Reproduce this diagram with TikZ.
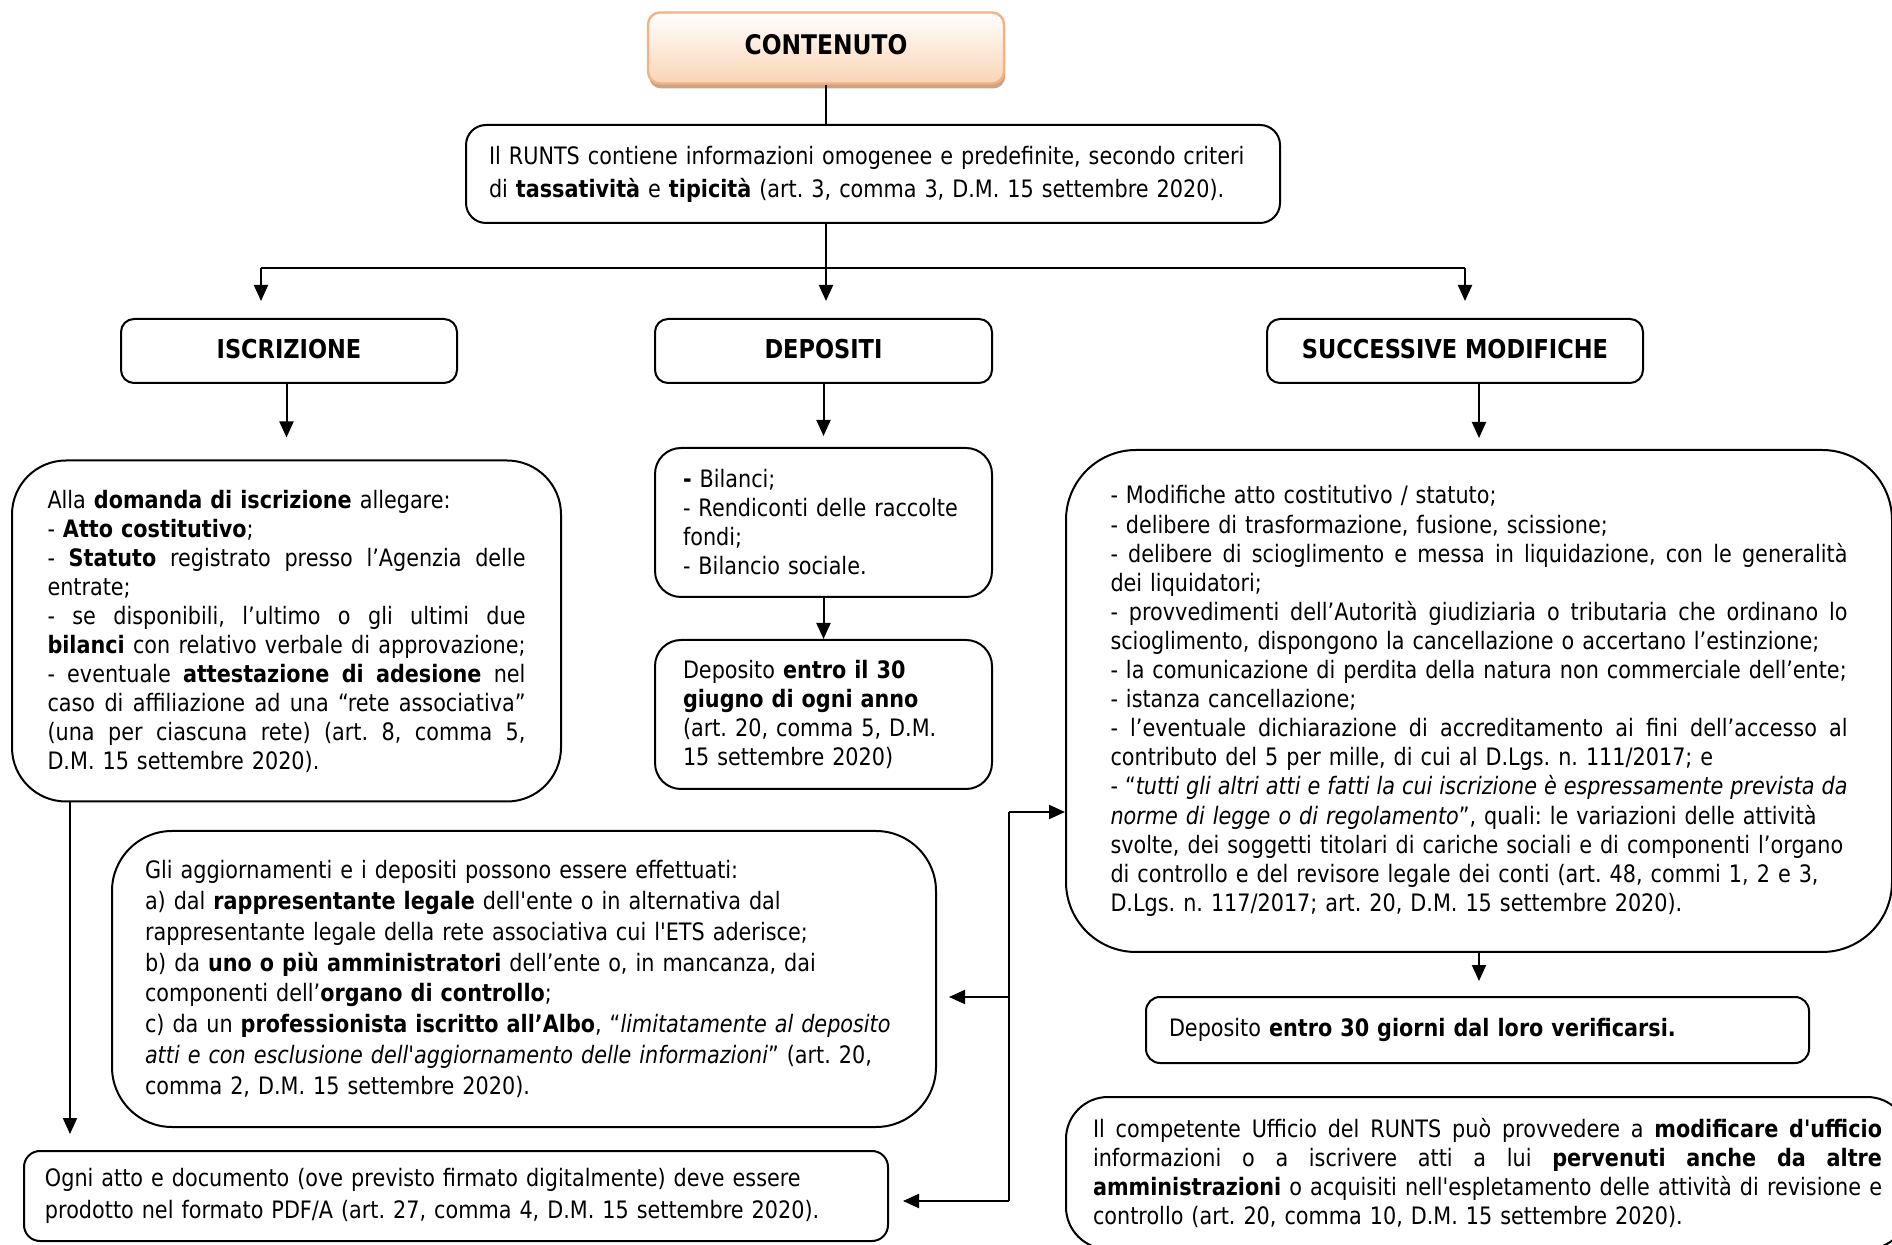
\documentclass[tikz,border=0pt]{standalone}
\usepackage{fontspec}
\setmainfont[FakeStretch=0.865,Ligatures=TeXOff]{DejaVu Sans}
\usetikzlibrary{arrows.meta,shadows}
\newdimen\px \px=0.5pt
\newlength\jw
\newcommand\J[1]{\makebox[\jw][s]{\spaceskip=\fontdimen2\font plus 1fil\relax #1}}
\definecolor{peachline}{RGB}{244,177,131}
\definecolor{peachfill}{RGB}{250,212,180}
\definecolor{peachshadow}{RGB}{200,165,135}
\setlength\parindent{0pt}
\frenchspacing
\tikzset{
  box/.style={draw, line width=1pt, fill=white, align=left, inner sep=0pt,
    font=\fontsize{12pt}{14.5pt}\selectfont\frenchspacing},
  tw/.style={text width=#1, execute at begin node={\setlength\jw{#1}}},
  hdr/.style={draw, line width=1pt, rounded corners=6.5pt, fill=white, inner sep=0pt,
    minimum height=64\px, font=\fontsize{13pt}{15pt}\selectfont\bfseries},
  arr/.style={line width=1pt, -{Triangle[length=8pt,width=7pt]}},
  ln/.style={line width=1pt},
}
\begin{document}
\begin{tikzpicture}[x=0.5pt,y=-0.5pt]
\path[use as bounding box] (0,0) rectangle (1892,1245);
\clip (0,0) rectangle (1892,1245);

% title
\node[draw=peachline, line width=1.2pt, rounded corners=6pt, top color=white,
  bottom color=peachfill,
  drop shadow={shadow xshift=0.6pt, shadow yshift=-2.5pt, fill=peachshadow, opacity=1},
  minimum width=356\px, minimum height=71\px, inner sep=0pt,
  font=\fontsize{13.5pt}{16pt}\selectfont\bfseries] (cont) at (826,48) {\raisebox{4pt}{CONTENUTO}};

\node[box, rounded corners=10pt, minimum width=814\px, minimum height=98\px,
  tw=768\px, font=\fontsize{12pt}{16.5pt}\selectfont] (runts) at (873,174)
  {Il RUNTS contiene informazioni omogenee e predefinite, secondo criteri\\
   di \textbf{tassatività} e \textbf{tipicità} (art. 3, comma 3, D.M. 15 settembre 2020).};

% headers
\node[hdr, minimum width=336\px] (isc1) at (289,351) {\raisebox{2pt}{ISCRIZIONE}};
\node[hdr, minimum width=337\px] (dep1) at (823.5,351) {\raisebox{2pt}{DEPOSITI}};
\node[hdr, minimum width=376\px] (mod1) at (1455,351) {\raisebox{2pt}{SUCCESSIVE MODIFICHE}};

% iscrizione content
\node[box, rounded corners=27pt, minimum width=549\px, minimum height=341\px,
  tw=478\px] (isc) at (286.5,631)
  {Alla \textbf{domanda di iscrizione} allegare:\\
   - \textbf{Atto costitutivo};\\
   \J{- \textbf{Statuto} registrato presso l’Agenzia delle}\\
   entrate;\\
   \J{- se disponibili, l’ultimo o gli ultimi due}\\
   \J{\textbf{bilanci} con relativo verbale di approvazione;}\\
   \J{- eventuale \textbf{attestazione di adesione} nel}\\
   \J{caso di affiliazione ad una “rete associativa”}\\
   \J{(una per ciascuna rete) (art. 8, comma 5,}\\
   D.M. 15 settembre 2020).};

% depositi content
\node[box, rounded corners=13pt, minimum width=337\px, minimum height=149\px,
  tw=281\px] (bil) at (823.5,522.5)
  {\textbf{-} Bilanci;\\
   - Rendiconti delle raccolte\\
   fondi;\\
   - Bilancio sociale.};
\node[box, rounded corners=13pt, minimum width=337\px, minimum height=149\px,
  tw=281\px] (dep2) at (823.5,714.5)
  {Deposito \textbf{entro il 30}\\
   \textbf{giugno di ogni anno}\\
   (art. 20, comma 5, D.M.\\
   15 settembre 2020)};

% modifiche content
\node[box, rounded corners=35pt, minimum width=826\px, minimum height=502\px,
  tw=737\px, font=\fontsize{12pt}{14.55pt}\selectfont] (mod) at (1479,701)
  {- Modifiche atto costitutivo / statuto;\\
   - delibere di trasformazione, fusione, scissione;\\
   \J{- delibere di scioglimento e messa in liquidazione, con le generalità}\\
   dei liquidatori;\\
   \J{- provvedimenti dell’Autorità giudiziaria o tributaria che ordinano lo}\\
   \mbox{scioglimento, dispongono la cancellazione o accertano l’estinzione;}\\
   \mbox{- la comunicazione di perdita della natura non commerciale dell’ente;}\\
   - istanza cancellazione;\\
   \J{- l’eventuale dichiarazione di accreditamento ai fini dell’accesso al}\\
   contributo del 5 per mille, di cui al D.Lgs. n. 111/2017; e\\
   \J{- “\textit{tutti gli altri atti e fatti la cui iscrizione è espressamente prevista da}}\\
   \mbox{\textit{norme di legge o di regolamento}”, quali: le variazioni delle attività}\\
   \mbox{svolte, dei soggetti titolari di cariche sociali e di componenti l’organo}\\
   \mbox{di controllo e del revisore legale dei conti (art. 48, commi 1, 2 e 3,}\\
   D.Lgs. n. 117/2017; art. 20, D.M. 15 settembre 2020).};

\node[box, rounded corners=7pt, minimum width=663\px, minimum height=66\px,
  tw=617\px] (dep3) at (1477.5,1030)
  {Deposito \textbf{entro 30 giorni dal loro verificarsi.}};

\node[box, rounded corners=21pt, minimum width=843\px, minimum height=152\px,
  tw=789\px] (uff) at (1487.5,1173)
  {\J{Il competente Ufficio del RUNTS può provvedere a \textbf{modificare d'ufficio}}\\
   \J{informazioni o a iscrivere atti a lui \textbf{pervenuti anche da altre}}\\
   \J{\textbf{amministrazioni} o acquisiti nell'espletamento delle attività di revisione e}\\
   controllo (art. 20, comma 10, D.M. 15 settembre 2020).};

% aggiornamenti
\node[box, rounded corners=30pt, minimum width=824\px, minimum height=296\px,
  tw=758\px, font=\fontsize{12pt}{15.4pt}\selectfont] (agg) at (524,979)
  {Gli aggiornamenti e i depositi possono essere effettuati:\\
   a) dal \textbf{rappresentante legale} dell'ente o in alternativa dal\\
   rappresentante legale della rete associativa cui l'ETS aderisce;\\
   b) da \textbf{uno o più amministratori} dell’ente o, in mancanza, dai\\
   componenti dell’\textbf{organo di controllo};\\
   \mbox{c) da un \textbf{professionista iscritto all’Albo}, “\textit{limitatamente al deposito}}\\
   \textit{atti e con esclusione dell'aggiornamento delle informazioni}” (art. 20,\\
   comma 2, D.M. 15 settembre 2020).};

\node[box, rounded corners=8pt, minimum width=864\px, minimum height=90\px,
  tw=822\px, font=\fontsize{12pt}{16pt}\selectfont] (pdf) at (456,1196)
  {Ogni atto e documento (ove previsto firmato digitalmente) deve essere\\
   prodotto nel formato PDF/A (art. 27, comma 4, D.M. 15 settembre 2020).};

% connectors
\coordinate (hl) at (261,268);
\coordinate (hr) at (1465,268);
\coordinate (vt) at (1009,812);
\coordinate (vm) at (1009,997);
\coordinate (vb) at (1009,1201);
\coordinate (lx) at (70,0);

\draw[ln] (cont.south) -- (cont.south |- runts.north);
\draw[ln] (cont.south |- runts.south) -- (cont.south |- hl);
\draw[ln] (hl) -- (hr);
\draw[arr, shorten >=17\px] (hl) -- (hl |- isc1.north);
\draw[arr, shorten >=17\px] (cont.south |- hl) -- (cont.south |- dep1.north);
\draw[arr, shorten >=17\px] (hr) -- (hr |- mod1.north);

\draw[arr, shorten >=22\px] (isc.north |- isc1.south) -- (isc.north);
\draw[arr, shorten >=11\px] (dep1.south) -- (dep1.south |- bil.north);
\draw[arr, shorten >=11\px] (mod.north |- mod1.south) -- (mod.north);
\draw[arr] (bil.south) -- (dep2.north);
\draw[arr, shorten >=15\px] (mod.south) -- (mod.south |- dep3.north);
\draw[arr, shorten >=16\px] (isc.south -| lx) -- (pdf.north -| lx);

\draw[ln] (vt) -- (vb);
\draw[arr] (vt) -- (vt -| mod.west);
\draw[arr, shorten >=12\px] (vm) -- (vm -| agg.east);
\draw[arr, shorten >=14\px] (vb) -- (vb -| pdf.east);
\end{tikzpicture}
\end{document}
